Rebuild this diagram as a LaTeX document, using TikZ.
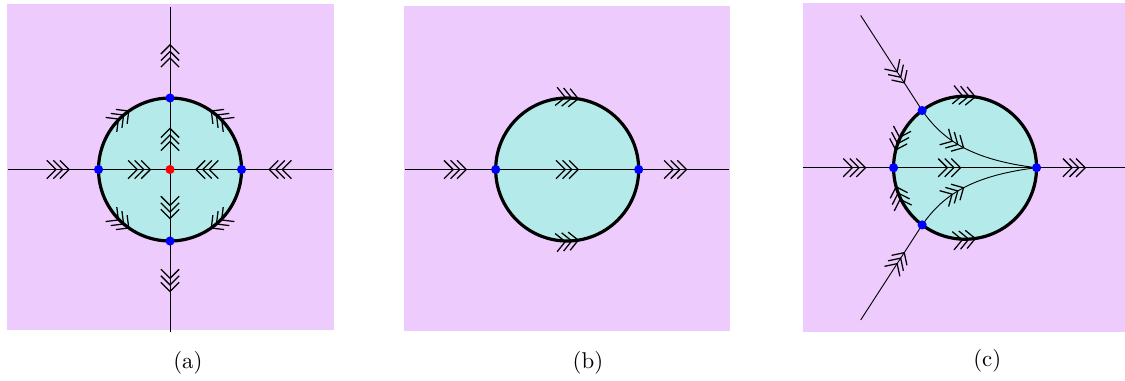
\documentclass[tikz,border=0pt]{standalone}
\usetikzlibrary{arrows.meta,decorations.markings}

\definecolor{pinkbg}{RGB}{238,203,253}
\definecolor{cyanbg}{RGB}{180,234,234}

\tikzset{
  >={Straight Barb[length=4pt,width=8pt,sep=-1.8pt,line width=0.55pt]},
  flow/.style={postaction={decorate,decoration={markings,
      mark=at position #1 with {\arrow{>>>}}}}},
  rim/.style={line width=1.4pt},
  fixpt/.style={fill=blue},
}

\begin{document}
\begin{tikzpicture}[x=1.1cm,y=1.1cm]

  \def\dotradius{2pt}
  \useasboundingbox (-2.378,-2.958) rectangle (13.357,2.371);

  % Panel (a) -- sink in the middle, four fixed points on the rim
  \begin{scope}
    \fill[pinkbg] (-2.28,-2.25) rectangle (2.29,2.32);
    \fill[cyanbg] (0,0) circle (1);
    \coordinate (aO) at (0,0);
    \coordinate (aL) at (-1,0);
    \coordinate (aR) at (1,0);
    \coordinate (aT) at (0,1);
    \coordinate (aB) at (0,-1);
    \coordinate (aW) at (-2.27,0);
    \coordinate (aE) at (2.27,0);
    \coordinate (aN) at (0,2.27);
    \coordinate (aS) at (0,-2.27);
    % axes, one piece between each pair of fixed points
    \foreach \s/\e/\p in {aW/aL/0.64, aL/aO/0.68, aR/aO/0.59, aE/aR/0.66,
                          aT/aN/0.55, aO/aT/0.53, aO/aB/0.64, aB/aS/0.52}{
      \draw[flow=\p] (\s) -- (\e);
    }
    % rim
    \draw[rim] (aO) circle (1);
    \foreach \a/\b in {180/90, 0/90, 180/270, 360/270}{
      \draw[flow=0.58] (\a:1) arc[start angle=\a, end angle=\b, radius=1];
    }
    \foreach \p in {aL,aR,aT,aB}{
      \fill[fixpt] (\p) circle (\dotradius);
    }
    \fill[red] (aO) circle (\dotradius);
    \node (capa) at (0.25,-2.7) {(a)};
  \end{scope}

  % Panel (b) -- flow straight across
  \begin{scope}[shift={(5.555,0)}]
    \fill[pinkbg] (-2.28,-2.26) rectangle (2.28,2.29);
    \fill[cyanbg] (0,0) circle (1);
    \coordinate (bO) at (0,0);
    \coordinate (bL) at (-1,0);
    \coordinate (bR) at (1,0);
    \coordinate (bW) at (-2.27,0);
    \coordinate (bE) at (2.27,0);
    \draw[flow=0.64] (bW) -- (bL);
    \draw[flow=0.555] (bL) -- (bR);
    \draw[flow=0.49] (bR) -- (bE);
    % rim
    \draw[rim] (bO) circle (1);
    \draw[flow=0.535] (bL) arc[start angle=180, end angle=0, radius=1];
    \draw[flow=0.535] (bL) arc[start angle=180, end angle=360, radius=1];
    \foreach \p in {bL,bR}{
      \fill[fixpt] (\p) circle (\dotradius);
    }
    \node (capb) at (0.29,-2.7) {(b)};
  \end{scope}

  % Panel (c) -- three inflows meeting at the right point
  \begin{scope}[shift={(11.12,0.025)}]
    \fill[pinkbg] (-2.27,-2.3) rectangle (2.3,2.3);
    \fill[cyanbg] (0,0) circle (1);
    \coordinate (cO) at (0,0);
    \coordinate (cL) at (-1,0);
    \coordinate (cR) at (1,0);
    \coordinate (cP) at (-0.6,0.8);
    \coordinate (cQ) at (-0.6,-0.8);
    \coordinate (cW) at (-2.27,0);
    \coordinate (cE) at (2.27,0);
    \coordinate (cNW) at (-1.46,2.13);
    \coordinate (cSW) at (-1.46,-2.13);
    \draw[flow=0.655] (cW) -- (cL);
    \draw[flow=0.445] (cL) -- (cR);
    \draw[flow=0.5] (cR) -- (cE);
    \draw[flow=0.68] (cNW) -- (cP);
    \draw[flow=0.68] (cSW) -- (cQ);
    \draw[flow=0.4] (cP) .. controls (-0.35,0.45) and (0,0.12) .. (cR);
    \draw[flow=0.4] (cQ) .. controls (-0.35,-0.45) and (0,-0.12) .. (cR);
    % rim
    \draw[rim] (cO) circle (1);
    \draw[flow=0.335] (cP) arc[start angle=126.87, end angle=0, radius=1];
    \draw[flow=0.335] (cQ) arc[start angle=233.13, end angle=360, radius=1];
    \draw[flow=0.68] (cP) arc[start angle=126.87, end angle=180, radius=1];
    \draw[flow=0.66] (cQ) arc[start angle=233.13, end angle=180, radius=1];
    \foreach \p in {cL,cR,cP,cQ}{
      \fill[fixpt] (\p) circle (\dotradius);
    }
    \node (capc) at (0.31,-2.7) {(c)};
  \end{scope}

\end{tikzpicture}
\end{document}
